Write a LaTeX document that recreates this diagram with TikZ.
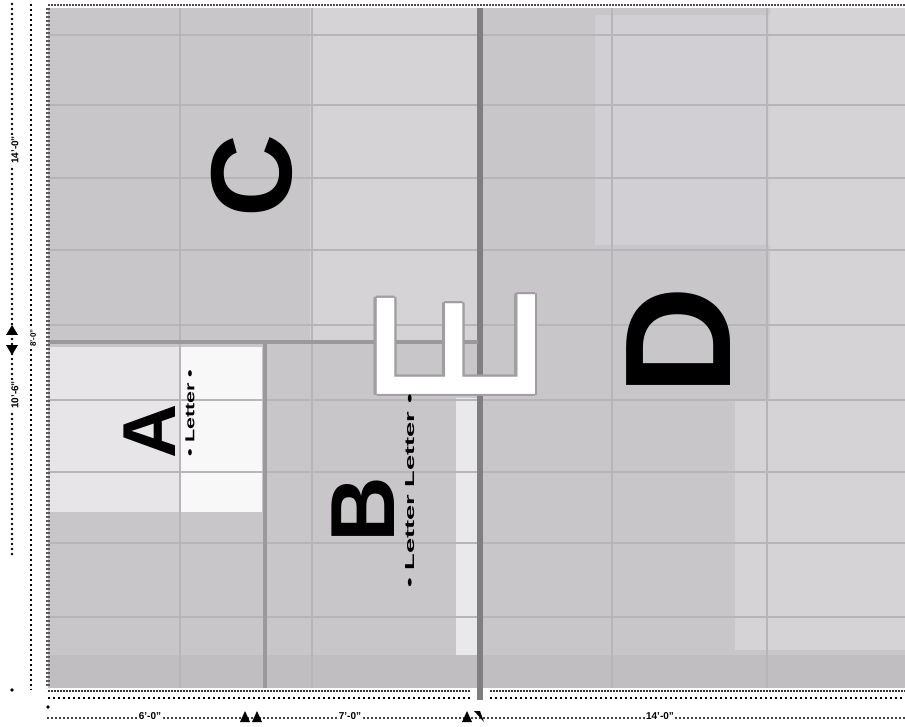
\documentclass[tikz,border=0pt]{standalone}
\usepackage{fontspec}
\setmainfont{Liberation Sans}
\usepackage{contour}
\contourlength{2.2pt}
\definecolor{bgc}{RGB}{201,198,202}
\definecolor{lightc}{RGB}{213,211,214}
\definecolor{panelc}{RGB}{209,206,212}
\definecolor{gridc}{RGB}{184,181,185}
\definecolor{wallc}{RGB}{155,153,156}
\definecolor{mainwall}{RGB}{128,126,129}
\definecolor{bandc}{RGB}{192,190,193}
\begin{document}
\begin{tikzpicture}[x=1pt,y=-1pt,
  bigletter/.style={rotate=90, inner sep=0pt, text=black},
  smalltext/.style={rotate=90, inner sep=0pt, font=\fontsize{13}{13}\selectfont\bfseries},
  gridline/.style={draw=gridc, line width=1.1pt},
  wall/.style={draw=wallc, line width=3.5pt},
  rounddots/.style={draw=black, line width=2.6pt, line cap=round, dash pattern=on 0pt off 5pt},
  squaredots/.style={draw=black, line width=2.8pt, dash pattern=on 2.4pt off 2.6pt},
  finedots/.style={draw=black!80, line width=2pt, dash pattern=on 1.5pt off 1.5pt},
  dimtext/.style={font=\fontsize{10}{10}\selectfont\bfseries, inner sep=1.5pt, fill=white},
  dimtextv/.style={dimtext, rotate=90},
  tip/.style={fill=black}
]
\useasboundingbox (0,0) rectangle (905,727);
\fill[white] (0,0) rectangle (905,727);

% floor areas
\fill[bgc] (48,8) rectangle (905,688);
\fill[lightc] (310,8) rectangle (478,340);
\fill[panelc] (595,15) rectangle (770,245);
\fill[lightc] (770,8) rectangle (905,400);
\fill[lightc] (735,400) rectangle (905,650);
\fill[white!55!bgc] (50,347) rectangle (180,512);
\fill[white!88!bgc] (180,347) rectangle (262,512);
\fill[white!60!bgc] (456,398) rectangle (478,688);
\fill[bandc] (48,655) rectangle (905,688);

% grid lines
\foreach \yy in {35,105,178,250,325,400,472,543,617}
  \draw[gridline] (48,\yy) -- (905,\yy);
\foreach \xx in {180,312,612,767}
  \draw[gridline] (\xx,8) -- (\xx,688);

% walls
\coordinate (wt) at (480,8);
\coordinate (wb) at (480,700);
\draw[draw=mainwall, line width=6pt] (wt) -- (wb);
\coordinate (hl) at (48,342);
\coordinate (hr) at (478,342);
\draw[wall] (hl) -- (hr);
\coordinate (vt) at (265,342);
\coordinate (vb) at (265,688);
\draw[wall] (vt) -- (vb);

% ruler edges
\coordinate (lt) at (48,8);
\coordinate (lb) at (48,688);
\draw[draw=gray!70!black, line width=4pt, dash pattern=on 2pt off 2pt] (lt) -- (lb);
\coordinate (tl) at (48,5);
\coordinate (tr) at (905,5);
\draw[finedots, draw=gray!60!black] (tl) -- (tr);
\coordinate (b1l) at (48,691);
\coordinate (b1r) at (470,691);
\coordinate (b2l) at (490,691);
\coordinate (b2r) at (905,691);
\draw[finedots] (b1l) -- (b1r);
\draw[finedots] (b2l) -- (b2r);
\coordinate (c1l) at (48,698);
\coordinate (c1r) at (470,698);
\coordinate (c2l) at (490,698);
\coordinate (c2r) at (905,698);
\draw[squaredots] (c1l) -- (c1r);
\draw[squaredots] (c2l) -- (c2r);

% left dimension lines
\coordinate (L1t) at (12,4);
\coordinate (L1b) at (12,555);
\draw[rounddots] (L1t) -- (L1b);
\node[dimtextv] (d1) at (15,150) {14'-0"};
\node[dimtextv] (d2) at (15,395) {10'-6"};
\fill[tip] (6,335) -- (18,335) -- (12,325) -- cycle;
\fill[tip] (6,345) -- (18,345) -- (12,355) -- cycle;
\coordinate (L2t) at (31,4);
\coordinate (L2b) at (31,690);
\draw[squaredots] (L2t) -- (L2b);
\node[dimtextv, font=\fontsize{8}{8}\selectfont\bfseries] (d3) at (33,338) {8'-0"};
\fill (12,690) circle (1.8pt);
\fill (48,707) circle (1.8pt);

% bottom dimension line
\coordinate (Bl) at (48,718);
\coordinate (Br) at (905,718);
\draw[rounddots, line width=2.2pt, dash pattern=on 0pt off 4pt] (Bl) -- (Br);
\node[dimtext] (d4) at (150,716) {6'-0"};
\node[dimtext] (d5) at (350,716) {7'-0"};
\node[dimtext] (d6) at (660,716) {14'-0"};
\fill[tip] (240,722) -- (250,722) -- (245,711) -- cycle;
\fill[tip] (252,722) -- (262,722) -- (257,711) -- cycle;
\fill[tip] (462,722) -- (472,722) -- (467,711) -- cycle;
\fill[tip] (474,711) -- (480,711) -- (484,722) -- cycle;

% room letters
\node[bigletter, font=\fontsize{115}{115}\selectfont\bfseries] (C) at (252,176) {C};
\node[bigletter, font=\fontsize{151}{151}\selectfont\bfseries] (D) at (679,341) {D};
\node[bigletter, font=\fontsize{75}{75}\selectfont\bfseries] (A) at (150,431) {A};
\node[bigletter, font=\fontsize{91}{91}\selectfont\bfseries] (B) at (363,510) {B};
\node[bigletter, text=white, font=\fontsize{230}{230}\selectfont] (E) at (457,348)
  {\scalebox{0.8}[1]{\contour{gray!75}{E}}};

% small labels
\node[smalltext] (Alab) at (190,413) {\scalebox{1.65}[1]{• Letter •}};
\node[smalltext] (Blab) at (410,491) {\scalebox{2.1}[1]{• Letter Letter •}};
\end{tikzpicture}
\end{document}
